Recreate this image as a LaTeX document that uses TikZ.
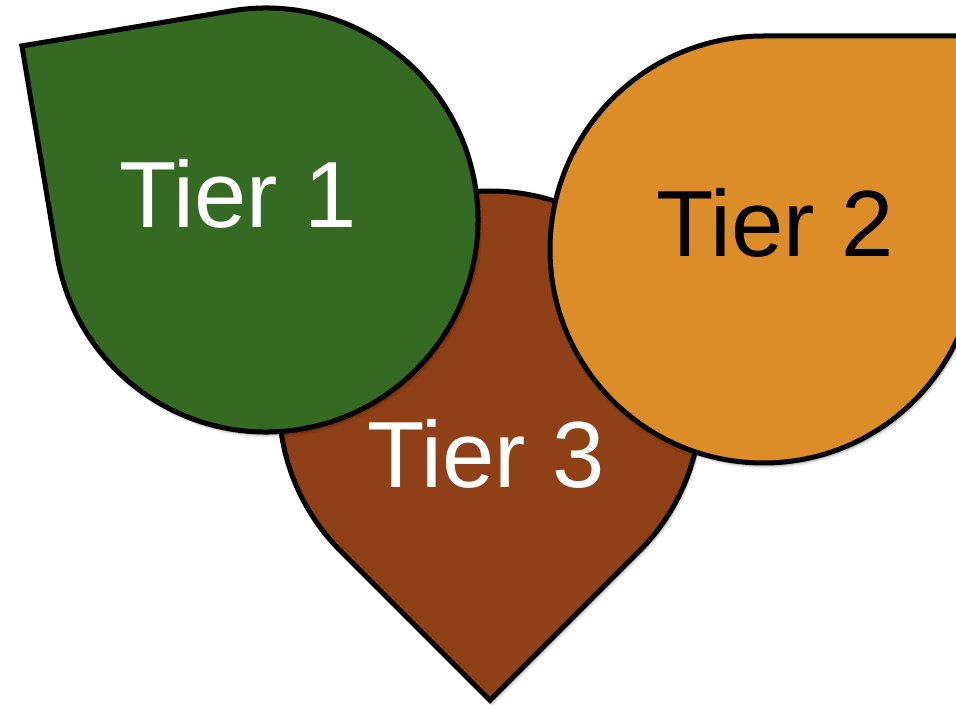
\documentclass[tikz,border=0pt]{standalone}
\usepackage{fontspec}
\setmainfont{Liberation Sans}
\usetikzlibrary{shadows.blur}
\definecolor{leafgreen}{HTML}{346A22}
\definecolor{leaforange}{HTML}{DC8D27}
\definecolor{leafbrown}{HTML}{8F4017}
\begin{document}
\begin{tikzpicture}[x=1pt,y=1pt,
  drop/.style={draw=black, line width=5pt, line join=miter,
    blur shadow={shadow xshift=1.5pt, shadow yshift=-3pt, shadow blur steps=6, shadow opacity=40, shadow blur radius=3pt}},
  tierlabel/.style={font=\fontsize{94}{110}\selectfont, anchor=base, inner sep=0pt}]
\useasboundingbox (0,0) rectangle (956,710);
\clip (0,0) rectangle (956,710);
% Tier 3 (brown, bottom layer)
\begin{scope}[shift={(490,308)}, rotate=-135]
  \path[drop, fill=leafbrown] (211,211) -- (0,211) arc[start angle=90, end angle=360, radius=211] -- cycle;
\end{scope}
% Tier 1 (green)
\begin{scope}[shift={(266,490)}, rotate=99.5]
  \path[drop, fill=leafgreen] (212,212) -- (0,212) arc[start angle=90, end angle=360, radius=212] -- cycle;
\end{scope}
% Tier 2 (orange)
\begin{scope}[shift={(763.5,460.5)}]
  \path[drop, fill=leaforange] (213.5,213.5) -- (0,213.5) arc[start angle=90, end angle=360, radius=213.5] -- cycle;
\end{scope}
\node[tierlabel, text=white] (t1) at (238,482) {Tier 1};
\node[tierlabel, text=black] (t2) at (775,453) {Tier 2};
\node[tierlabel, text=white] (t3) at (486,222) {Tier 3};
\end{tikzpicture}
\end{document}
